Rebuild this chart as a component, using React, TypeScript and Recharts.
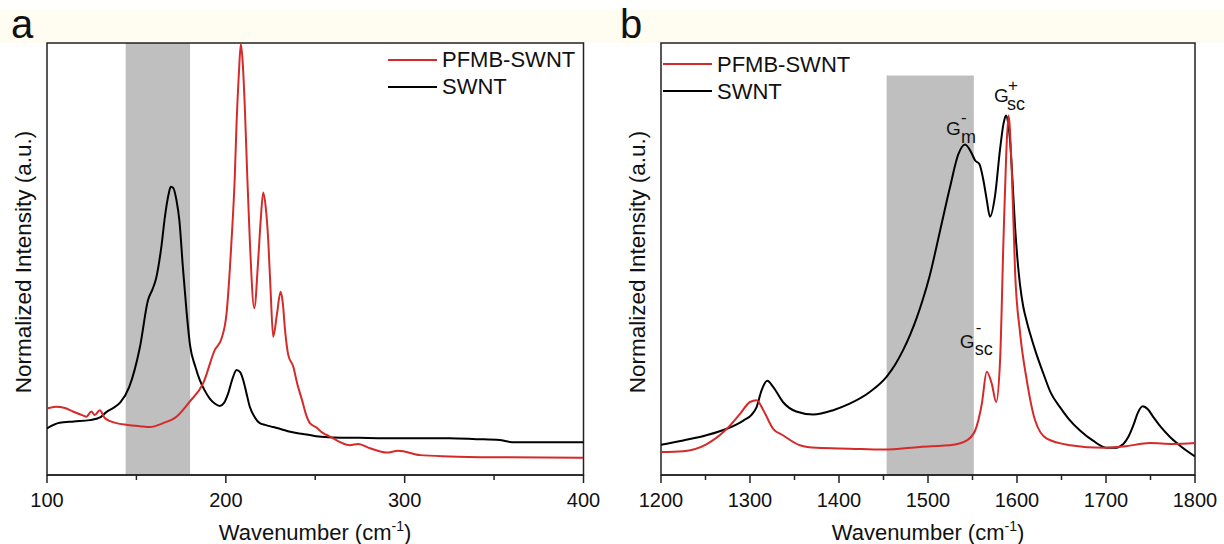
import React from 'react';
import { LineChart, Line, XAxis, YAxis, ReferenceArea, ReferenceDot } from 'recharts';

const FONT = '"Liberation Sans", Arial, Helvetica, sans-serif';
const RED = '#d52a2a';
const BLACK = '#000000';
const GRAY = '#bfbfbf';
const FRAME = '#222222';

// ---------- Panel a (RBM region) ----------
const aSwntX = [100, 107, 115, 124, 130, 133, 137, 141, 146, 152, 156.5, 159, 161, 164, 166, 168, 169.2, 170.5, 172.4, 174, 176, 178, 180, 183, 185.4, 188, 191, 194, 196.6, 199, 201.3, 203.5, 206, 208, 209.7, 211.5, 213.4, 216, 219, 222, 226.5, 231, 236, 241, 246, 252, 260, 275, 297, 325, 340, 353, 360, 380, 400];
const aSwntY = [0.108, 0.121, 0.124, 0.127, 0.134, 0.145, 0.155, 0.168, 0.204, 0.297, 0.405, 0.43, 0.455, 0.53, 0.6, 0.65, 0.667, 0.665, 0.636, 0.59, 0.48, 0.38, 0.3, 0.25, 0.22, 0.197, 0.177, 0.165, 0.16, 0.167, 0.189, 0.22, 0.243, 0.238, 0.22, 0.19, 0.158, 0.135, 0.12, 0.116, 0.111, 0.106, 0.1, 0.096, 0.093, 0.089, 0.087, 0.086, 0.085, 0.085, 0.083, 0.081, 0.076, 0.076, 0.076];
const aPfmbX = [100, 105, 110, 114.5, 120, 122, 124.8, 126.7, 129.5, 132.3, 138.8, 145, 151.9, 157.5, 164.9, 172.4, 179.8, 187.3, 193.8, 197.6, 200.4, 203.2, 205, 206, 207.3, 208.4, 209.5, 210.6, 212, 213.4, 215.9, 218.1, 219.5, 220.9, 222.3, 223.7, 225, 226.5, 228.5, 230.6, 231.8, 233.1, 234.9, 237.7, 240, 242.5, 245, 247, 250.7, 254, 258.2, 263, 269.4, 274, 280.6, 289.9, 296.4, 308.6, 325, 353, 400];
const aPfmbY = [0.154, 0.158, 0.155, 0.147, 0.138, 0.135, 0.147, 0.139, 0.15, 0.132, 0.12, 0.116, 0.113, 0.111, 0.12, 0.135, 0.17, 0.212, 0.289, 0.316, 0.374, 0.544, 0.69, 0.814, 0.93, 0.998, 0.95, 0.853, 0.69, 0.544, 0.386, 0.498, 0.59, 0.654, 0.62, 0.544, 0.43, 0.32, 0.37, 0.424, 0.4, 0.336, 0.278, 0.251, 0.21, 0.175, 0.138, 0.12, 0.11, 0.098, 0.089, 0.078, 0.069, 0.072, 0.062, 0.052, 0.056, 0.046, 0.043, 0.041, 0.04];
const aTicks = [100, 150, 200, 250, 300, 350, 400];
const aMajorTicks = [100, 200, 300, 400];
const aDomain = [100, 400];
const aBand = [144, 180];

// ---------- Panel b (D / G region) ----------
const bSwntX = [1200, 1225, 1251, 1274, 1292.5, 1302, 1307.4, 1313, 1319.4, 1326, 1337, 1352, 1371, 1393.5, 1412, 1434.6, 1453.4, 1463, 1472, 1480, 1487, 1494, 1502, 1513.5, 1524.7, 1534, 1541.6, 1549, 1553, 1557.7, 1562.2, 1566, 1569.7, 1575.3, 1580.9, 1585, 1587.6, 1590, 1592.1, 1595, 1597.8, 1600.5, 1603.4, 1607, 1611, 1614.6, 1621, 1629.6, 1638, 1648.3, 1658, 1670.8, 1685, 1700.7, 1710, 1719.5, 1725, 1730.7, 1736, 1741.2, 1747, 1753.2, 1762, 1771.9, 1785, 1800];
const bSwntY = [0.07, 0.08, 0.092, 0.107, 0.126, 0.14, 0.157, 0.196, 0.218, 0.204, 0.169, 0.147, 0.14, 0.15, 0.165, 0.192, 0.227, 0.255, 0.289, 0.325, 0.362, 0.405, 0.462, 0.565, 0.666, 0.742, 0.765, 0.745, 0.728, 0.72, 0.683, 0.637, 0.598, 0.646, 0.753, 0.815, 0.832, 0.815, 0.776, 0.68, 0.575, 0.5, 0.44, 0.39, 0.355, 0.328, 0.285, 0.235, 0.19, 0.157, 0.13, 0.103, 0.08, 0.063, 0.063, 0.072, 0.088, 0.115, 0.145, 0.159, 0.152, 0.134, 0.11, 0.088, 0.065, 0.043];
const bPfmbX = [1200, 1225, 1251, 1274, 1289, 1300, 1307.4, 1315, 1326, 1337, 1356, 1375, 1412, 1450, 1491, 1528.7, 1543.6, 1553, 1560.5, 1566, 1571.7, 1576.6, 1581, 1584.8, 1587.8, 1590.5, 1594.2, 1597.9, 1603.5, 1611, 1620.4, 1633.5, 1659.7, 1697, 1720, 1749.6, 1775, 1800];
const bPfmbY = [0.053, 0.055, 0.071, 0.107, 0.142, 0.169, 0.173, 0.15, 0.107, 0.092, 0.069, 0.063, 0.061, 0.059, 0.065, 0.07, 0.08, 0.103, 0.165, 0.239, 0.211, 0.169, 0.266, 0.544, 0.737, 0.832, 0.699, 0.467, 0.328, 0.219, 0.126, 0.084, 0.069, 0.063, 0.066, 0.074, 0.072, 0.074];
const bTicks = [1200, 1250, 1300, 1350, 1400, 1450, 1500, 1550, 1600, 1650, 1700, 1750, 1800];
const bMajorTicks = [1200, 1300, 1400, 1500, 1600, 1700, 1800];
const bDomain = [1200, 1800];
const bBand = [1453.5, 1551.5];
const bBandTop = 0.925;

// peak annotation anchors (wavenumber, intensity)
const gmMinusPeak = [1541.6, 0.765];
const gscPlusPeak = [1587.6, 0.832];
const gscMinusPeak = [1566, 0.239];

const seriesNames = ['PFMB-SWNT', 'SWNT'];

const zip = (xs: number[], ys: number[]) => xs.map((x, i) => ({ x, y: ys[i] }));

const aSwnt = zip(aSwntX, aSwntY);
const aPfmb = zip(aPfmbX, aPfmbY);
const bSwnt = zip(bSwntX, bSwntY);
const bPfmb = zip(bPfmbX, bPfmbY);

const AxisTick = (props: any) => {
  const { x, y, payload, majors } = props;
  const major = majors.includes(payload.value);
  return (
    <g>
      <line x1={x} x2={x} y1={y} y2={y + (major ? 8 : 5)} stroke={FRAME} strokeWidth={1.5} />
      {major && (
        <text x={x} y={y + 32} textAnchor="middle" fontSize={20} fontFamily={FONT} fill="#111">
          {payload.value}
        </text>
      )}
    </g>
  );
};

type Anno = { gdx: number; gdy: number; sup: string; supdx: number; supdy: number; sub: string; subdx: number; subdy: number };

const makeAnno = (a: Anno) => (props: any) => {
  const vb = props.viewBox || { x: 0, y: 0, width: 0, height: 0 };
  const cx = vb.x + (vb.width || 0) / 2;
  const cy = vb.y + (vb.height || 0) / 2;
  return (
    <g fontFamily={FONT} fill="#111">
      <text x={cx + a.gdx} y={cy + a.gdy} fontSize={19}>G</text>
      <text x={cx + a.supdx} y={cy + a.supdy} fontSize={17}>{a.sup}</text>
      <text x={cx + a.subdx} y={cy + a.subdy} fontSize={18}>{a.sub}</text>
    </g>
  );
};

const gmMinusLabel = makeAnno({ gdx: -19, gdy: -10, sup: '-', supdx: -4, supdy: -22, sub: 'm', subdx: -4, subdy: -2 });
const gscPlusLabel = makeAnno({ gdx: -12, gdy: -14, sup: '+', supdx: 2, supdy: -25, sub: 'sc', subdx: 1, subdy: -6 });
const gscMinusLabel = makeAnno({ gdx: -27, gdy: -23.5, sup: '-', supdx: -11, supdy: -39, sub: 'sc', subdx: -12, subdy: -16.5 });

const Legend = ({ x, y1, y2, dy }: { x: number; y1: number; y2: number; dy: number }) => (
  <g fontFamily={FONT} fontSize={22} fill="#111">
    <line x1={x} x2={x + 49} y1={y1} y2={y1} stroke={RED} strokeWidth={2} />
    <text x={x + 54} y={y1 + dy}>{seriesNames[0]}</text>
    <line x1={x} x2={x + 49} y1={y2} y2={y2} stroke={BLACK} strokeWidth={2} />
    <text x={x + 54} y={y2 + dy}>{seriesNames[1]}</text>
  </g>
);

const XTitle = ({ cx }: { cx: number }) => (
  <text x={cx} y={540} textAnchor="middle" fontFamily={FONT} fontSize={22} fill="#111">
    Wavenumber (cm<tspan dy={-9} fontSize={14}>-1</tspan><tspan dy={9}>)</tspan>
  </text>
);

const YTitle = ({ x }: { x: number }) => (
  <text
    x={x}
    y={262}
    textAnchor="middle"
    fontFamily={FONT}
    fontSize={22.5}
    fill="#111"
    transform={`rotate(-90, ${x}, 262)`}
  >
    Normalized Intensity (a.u.)
  </text>
);

export default function App() {
  return (
    <div style={{ position: 'absolute', left: 0, top: 0, width: 1224, height: 544, background: '#ffffff', overflow: 'hidden' }}>
      <div style={{ position: 'absolute', left: 0, top: 10, width: 1224, height: 33, background: '#fffdf1' }} />
      <div style={{ position: 'absolute', left: 0, top: 0 }}>
        <LineChart width={612} height={544} margin={{ top: 43, right: 28.5, bottom: 9, left: 47 }}>
          <XAxis
            type="number"
            dataKey="x"
            domain={aDomain}
            ticks={aTicks}
            interval={0}
            tickSize={0}
            tickMargin={0}
            tickLine={false}
            axisLine={{ stroke: FRAME, strokeWidth: 1.5 }}
            tick={(p: any) => <AxisTick {...p} majors={aMajorTicks} />}
            height={60}
            allowDataOverflow
          />
          <YAxis type="number" domain={[0, 1]} hide allowDataOverflow />
          <ReferenceArea x1={aBand[0]} x2={aBand[1]} y1={0} y2={1} fill={GRAY} fillOpacity={1} stroke="none" />
          <Line data={aSwnt} dataKey="y" type="monotone" stroke={BLACK} strokeWidth={2} dot={false} isAnimationActive={false} />
          <Line data={aPfmb} dataKey="y" type="monotone" stroke={RED} strokeWidth={2} dot={false} isAnimationActive={false} />
          <ReferenceArea x1={aDomain[0]} x2={aDomain[1]} y1={0} y2={1} fill="none" stroke={FRAME} strokeWidth={1.5} />
        </LineChart>
      </div>
      <div style={{ position: 'absolute', left: 612, top: 0 }}>
        <LineChart width={612} height={544} margin={{ top: 43, right: 29, bottom: 9, left: 49 }}>
          <XAxis
            type="number"
            dataKey="x"
            domain={bDomain}
            ticks={bTicks}
            interval={0}
            tickSize={0}
            tickMargin={0}
            tickLine={false}
            axisLine={{ stroke: FRAME, strokeWidth: 1.5 }}
            tick={(p: any) => <AxisTick {...p} majors={bMajorTicks} />}
            height={60}
            allowDataOverflow
          />
          <YAxis type="number" domain={[0, 1]} hide allowDataOverflow />
          <ReferenceArea x1={bBand[0]} x2={bBand[1]} y1={0} y2={bBandTop} fill={GRAY} fillOpacity={1} stroke="none" />
          <Line data={bSwnt} dataKey="y" type="monotone" stroke={BLACK} strokeWidth={2} dot={false} isAnimationActive={false} />
          <Line data={bPfmb} dataKey="y" type="monotone" stroke={RED} strokeWidth={2} dot={false} isAnimationActive={false} />
          <ReferenceArea x1={bDomain[0]} x2={bDomain[1]} y1={0} y2={1} fill="none" stroke={FRAME} strokeWidth={1.5} />
          <ReferenceDot x={gmMinusPeak[0]} y={gmMinusPeak[1]} r={1} fill="none" stroke="none" label={gmMinusLabel} />
          <ReferenceDot x={gscPlusPeak[0]} y={gscPlusPeak[1]} r={1} fill="none" stroke="none" label={gscPlusLabel} />
          <ReferenceDot x={gscMinusPeak[0]} y={gscMinusPeak[1]} r={1} fill="none" stroke="none" label={gscMinusLabel} />
        </LineChart>
      </div>
      <svg width={1224} height={544} style={{ position: 'absolute', left: 0, top: 0, pointerEvents: 'none' }}>
        <text x={11} y={38} fontFamily={FONT} fontSize={40} fill="#111">a</text>
        <text x={620} y={38} fontFamily={FONT} fontSize={40} fill="#111">b</text>
        <YTitle x={31} />
        <YTitle x={645} />
        <XTitle cx={315} />
        <XTitle cx={928} />
        <Legend x={388} y1={60} y2={87} dy={7} />
        <Legend x={663} y1={64} y2={91} dy={8} />
      </svg>
    </div>
  );
}
